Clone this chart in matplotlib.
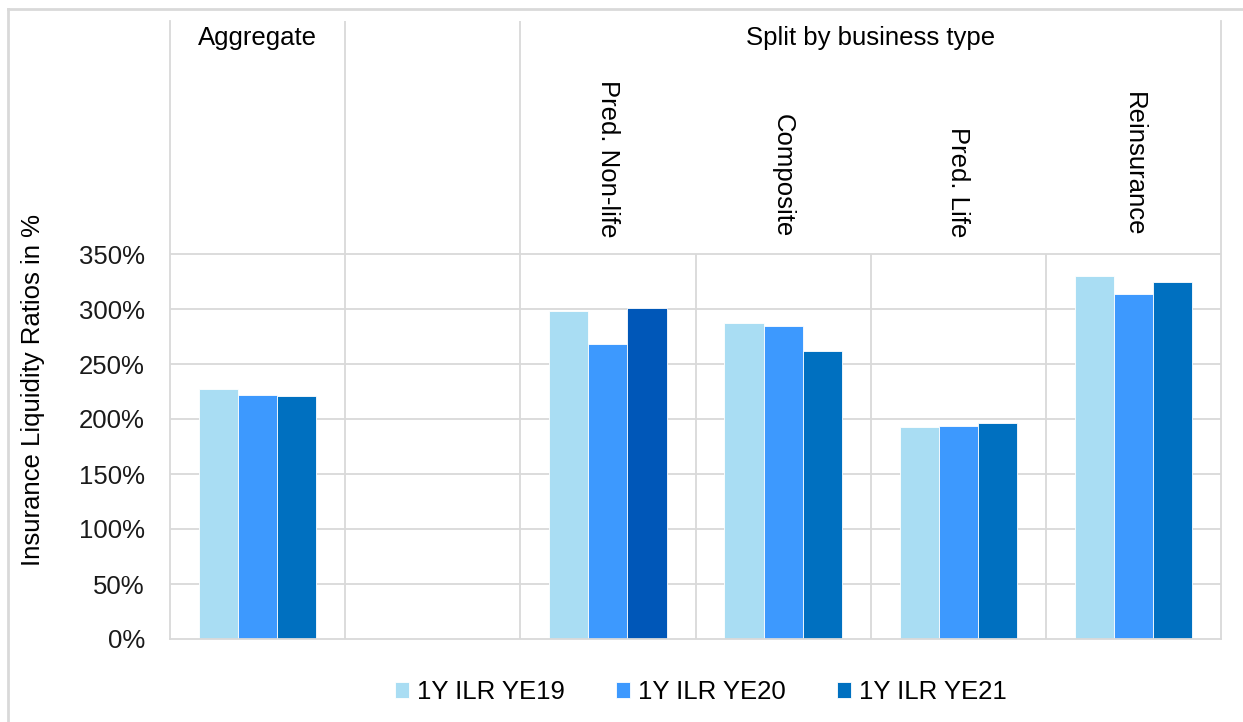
import matplotlib
matplotlib.use("Agg")
import matplotlib.pyplot as plt
from matplotlib.lines import Line2D
from matplotlib.patches import Patch
import numpy as np

plt.rcParams['font.family'] = ['Liberation Sans', 'DejaVu Sans']

categories = ['Aggregate', '', 'Pred. Non-life', 'Composite', 'Pred. Life', 'Reinsurance']
series_names = ['1Y ILR YE19', '1Y ILR YE20', '1Y ILR YE21']
ye19 = [227, np.nan, 298, 287, 193, 330]
ye20 = [222, np.nan, 268, 285, 194, 314]
ye21 = [221, np.nan, 301, 262, 196, 325]
yticks = [0, 50, 100, 150, 200, 250, 300, 350]

light = '#A9DDF3'
mid = '#3D99FE'
dark = '#0070C0'
darker = '#0057B8'
grid_col = '#D9D9D9'
fs = 18.5

W, H = 1243, 722
fig = plt.figure(figsize=(W / 100, H / 100), dpi=100)

# plot area in pixels: x 170..1221, y 21..639 (0% at 639, 55 px per 50%)
ax = fig.add_axes([170 / W, (H - 639) / H, (1221 - 170) / W, (639 - 21) / H])
ytop = (639 - 21) / 55 * 50
ax.set_ylim(0, ytop)
ax.set_xlim(-0.5, len(categories) - 0.5)

x = np.arange(len(categories))
bw = 0.223
c21 = [dark] * len(categories)
c21[2] = darker
ax.bar(x - bw, ye19, bw, color=light, edgecolor='white', linewidth=0.6, zorder=3)
ax.bar(x, ye20, bw, color=mid, edgecolor='white', linewidth=0.6, zorder=3)
ax.bar(x + bw, ye21, bw, color=c21, edgecolor='white', linewidth=0.6, zorder=3)

# horizontal grid
for v in yticks[1:]:
    ax.plot([-0.5, len(categories) - 0.5], [v, v], color=grid_col, lw=1.3, zorder=1,
            solid_capstyle='butt')

# vertical separators
bounds = np.arange(0.5, len(categories) - 0.5, 1)
ax.vlines(bounds, 0, 350, color=grid_col, lw=1.3, zorder=1)
ax.vlines([0.5, 1.5], 350, ytop, color=grid_col, lw=1.3, zorder=1)

ax.spines['top'].set_visible(False)
for s in ['left', 'right', 'bottom']:
    ax.spines[s].set_color(grid_col)
    ax.spines[s].set_linewidth(1.3)
ax.spines['bottom'].set_zorder(4)

ax.set_yticks(yticks)
ax.set_yticklabels([f'{v}%' for v in yticks], fontsize=fs, color='#1a1a1a')
ax.tick_params(axis='y', length=0, pad=18)
ax.set_xticks([])

# header labels
yh = (639 - 38) / 55 * 50
ax.text(0, yh, 'Aggregate', ha='center', va='center', fontsize=fs, color='black')
ax.text(3.5, yh, 'Split by business type', ha='center', va='center', fontsize=fs, color='black')
yr = (639 - 237) / 55 * 50
for i in range(2, len(categories)):
    ax.text(x[i], yr, categories[i], rotation=270, ha='center', va='bottom',
            fontsize=fs, color='black')

fig.text(33 / W, 1 - 390 / H, 'Insurance Liquidity Ratios in %', rotation=90,
         ha='center', va='center', fontsize=fs, color='black')

handles = [Patch(facecolor=c, edgecolor='white', linewidth=0.6) for c in [light, mid, dark]]
fig.legend(handles, series_names, loc='center', bbox_to_anchor=(701 / W, 1 - 692 / H),
           ncol=3, frameon=False, fontsize=fs, handlelength=0.55, handleheight=0.55,
           handletextpad=0.3, columnspacing=2.0)

# outer frame lines (top and left)
fig.add_artist(Line2D([8 / W, 1], [1 - 9 / H, 1 - 9 / H], color=grid_col, lw=2))
fig.add_artist(Line2D([8 / W, 8 / W], [0, 1 - 9 / H], color=grid_col, lw=2))

fig.savefig('out.png', dpi=100)
